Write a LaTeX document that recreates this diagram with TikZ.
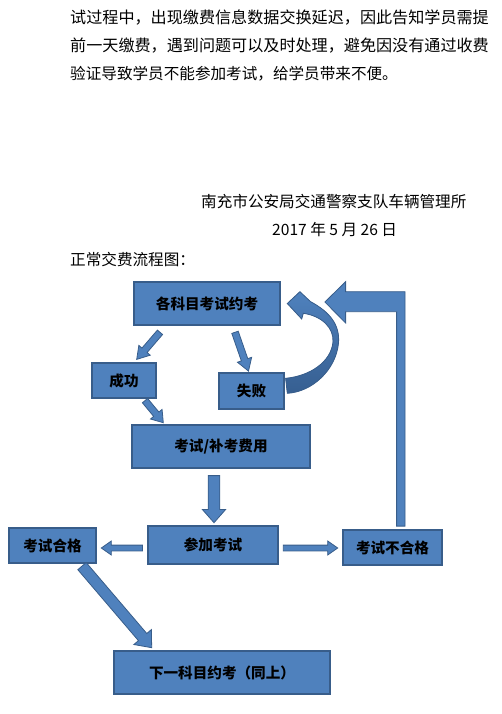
\documentclass[tikz,border=0pt]{standalone}
\usepackage{fontspec}
\setmainfont{Noto Sans CJK SC}
\usetikzlibrary{calc}
\definecolor{boxblue}{HTML}{4F81BD}
\definecolor{boxline}{HTML}{385D8A}
\definecolor{arrowdark}{HTML}{365F91}
\tikzset{
  box/.style={draw=boxline, fill=boxblue, line width=1.2, inner sep=0,
    font=\fontsize{14.6}{16}\selectfont\bfseries},
  para/.style={anchor=west, inner sep=0, font=\fontsize{15.6}{18}\selectfont},
  blk/.style={draw=boxline, fill=boxblue, line width=.8, line join=miter}
}
% block arrow: [style] tail, tip, half shaft, half head, head length
\newcommand{\blockarrow}[6][]{
  \coordinate (bh) at ($(#3)!#6pt!(#2)$);
  \draw[blk,#1] ($(#2)!#4pt!90:(#3)$) -- ($(bh)!#4pt!90:(#3)$) -- ($(bh)!#5pt!90:(#3)$)
    -- (#3) -- ($(bh)!#5pt!-90:(#3)$) -- ($(bh)!#4pt!-90:(#3)$) -- ($(#2)!#4pt!-90:(#3)$) -- cycle;
}
\begin{document}
\begin{tikzpicture}[x=1pt,y=-1pt]
  \useasboundingbox (0,0) rectangle (502,714);
  \node[para, font=\fontsize{16.1}{18}\selectfont] (l1) at (70,17.3) {试过程中，出现缴费信息数据交换延迟，因此告知学员需提};
  \node[para, font=\fontsize{16.1}{18}\selectfont] (l2) at (70,45.5) {前一天缴费，遇到问题可以及时处理，避免因没有通过收费};
  \node[para] (l3) at (70,73.3) {验证导致学员不能参加考试，给学员带来不便。};
  \node[para] (org) at (201,201.7) {南充市公安局交通警察支队车辆管理所};
  \node[para] (date) at (272,230) {2017 年 5 月 26 日};
  \node[para] (title) at (70,260) {正常交费流程图：};

  \node[box, minimum width=146, minimum height=43] (yk) at (207,303.5) {各科目考试约考};
  \node[box, minimum width=64, minimum height=35] (cg) at (124,380.5) {成功};
  \node[box, minimum width=65, minimum height=36] (sb) at (251.5,391) {失败};
  \node[box, minimum width=178, minimum height=43] (fy) at (221,446.5) {考试/补考费用};
  \node[box, minimum width=130, minimum height=38] (cj) at (213,545) {参加考试};
  \node[box, minimum width=87, minimum height=35] (hg) at (52.5,545.5) {考试合格};
  \node[box, minimum width=99, minimum height=35] (bhg) at (392.5,547.5) {考试不合格};
  \node[box, minimum width=216, minimum height=43] (xy) at (222,672.5) {下一科目约考（同上）};

  \coordinate (t1) at ($(yk.south)+(-47,6.7)$);
  \coordinate (h1) at ($(cg.north)+(12.7,-3)$);
  \coordinate (t2) at ($(yk.south)+(28,6.7)$);
  \coordinate (h2) at ($(sb.north)+(-3,-1.3)$);
  \coordinate (t3) at ($(cg.south)+(21,2)$);
  \coordinate (h3) at ($(fy.north)+(-57.7,-1.7)$);
  \coordinate (t4) at ($(fy.south)+(-7,7)$);
  \coordinate (h4) at ($(cj.north)+(1,-2.7)$);
  \coordinate (t5) at ($(cj.west)+(-5,3)$);
  \coordinate (h5) at ($(hg.east)+(4.7,2.5)$);
  \coordinate (t6) at ($(cj.east)+(4.7,3)$);
  \coordinate (h6) at ($(bhg.west)+(-4.7,0.5)$);
  \coordinate (t7) at ($(hg.south)+(29.5,2.5)$);
  \coordinate (h7) at ($(xy.north)+(-70.3,-2.7)$);
  \blockarrow{t1}{h1}{3.4}{7.5}{12}
  \blockarrow{t2}{h2}{3.4}{7.5}{12}
  \blockarrow{t3}{h3}{3.4}{7.5}{11}
  \blockarrow{t4}{h4}{5.8}{11.7}{13.3}
  \blockarrow{t5}{h5}{2.9}{7}{10}
  \blockarrow{t6}{h6}{2.9}{7}{10}
  \blockarrow{t7}{h7}{5.5}{11.5}{14}

  % curved arrow back from 失败
  \coordinate (ch) at ($(yk.east)+(6.7,0)$);
  \draw[blk, top color=boxblue, bottom color=arrowdark] (ch) -- ++(12.6,-11.8) -- ++(10.7,10)
    .. controls (330,312) and (340,325) .. (338.5,343)
    .. controls (336,370) and (312,392) .. ($(sb.east)+(2.7,2.3)$)
    -- ($(sb.east)+(1,-12.7)$)
    .. controls (310,376) and (331,362) .. (333,342)
    .. controls (334,328) and (322,316) .. (303.3,313.3) -- (301.7,319) -- cycle;

  % bent arrow from 考试不合格
  \coordinate (lb) at ($(bhg.north)+(8.3,-3.3)$);
  \coordinate (lh) at ($(yk.east)+(44.3,-1.5)$);
  \draw[blk] ($(lb)+(-4.2,0)$) |- ($(lh)+(20.7,9.7)$) -- ++(0,11.3) -- (lh) -- ++(20.7,-20.3)
    -- ++(0,10) -| ($(lb)+(4.2,0)$) -- cycle;
\end{tikzpicture}
\end{document}
